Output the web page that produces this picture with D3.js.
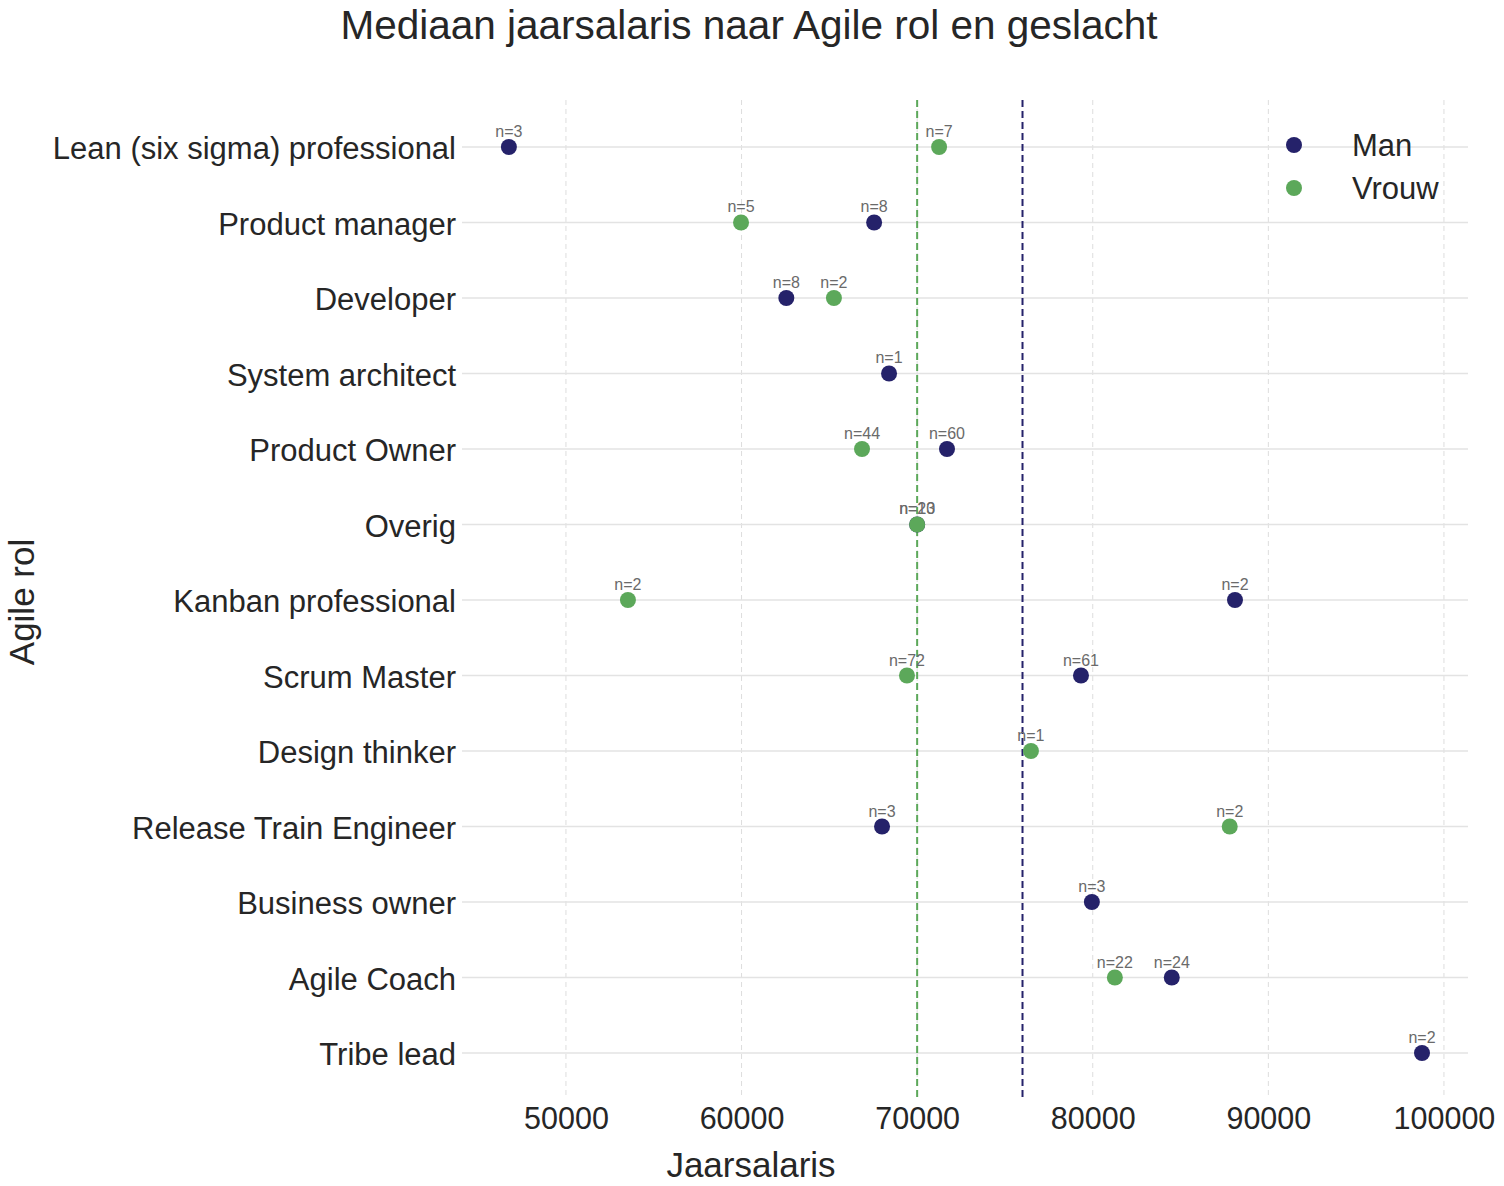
<!DOCTYPE html>
<html>
<head>
<meta charset="utf-8">
<script src="https://cdn.jsdelivr.net/npm/d3@7"></script>
<style>
  body { margin: 0; background: #fff; }
  svg { display: block; font-family: "Liberation Sans", Arial, sans-serif; }
</style>
</head>
<body>
<div id="app"></div>
<script>
const roles = ['Lean (six sigma) professional', 'Product manager', 'Developer', 'System architect',
  'Product Owner', 'Overig', 'Kanban professional', 'Scrum Master', 'Design thinker',
  'Release Train Engineer', 'Business owner', 'Agile Coach', 'Tribe lead'];

// [rol, salaris, n]
const manData = [
  ['Lean (six sigma) professional', 46750, 3],
  ['Product manager', 67550, 8],
  ['Developer', 62550, 8],
  ['System architect', 68400, 1],
  ['Product Owner', 71700, 60],
  ['Overig', 70000, 20],
  ['Kanban professional', 88100, 2],
  ['Scrum Master', 79330, 61],
  ['Release Train Engineer', 68000, 3],
  ['Business owner', 79950, 3],
  ['Agile Coach', 84500, 24],
  ['Tribe lead', 98750, 2]
];

const vrouwData = [
  ['Lean (six sigma) professional', 71250, 7],
  ['Product manager', 59970, 5],
  ['Developer', 65260, 2],
  ['Product Owner', 66860, 44],
  ['Overig', 70000, 13],
  ['Kanban professional', 53530, 2],
  ['Scrum Master', 69420, 72],
  ['Design thinker', 76480, 1],
  ['Release Train Engineer', 87800, 2],
  ['Agile Coach', 81260, 22]
];

const medianMan = 76000;
const medianVrouw = 70000;
const xTicks = [50000, 60000, 70000, 80000, 90000, 100000];

const w = 1504;
const h = 1186;
const plotLeft = 462, plotRight = 1468, plotTop = 100, plotBottom = 1098;
const manColor = '#25226a';
const vrouwColor = '#5ca85a';
const textColor = '#262626';

const xScale = d3.scaleLinear()
  .domain([44080, 101370])
  .range([plotLeft, plotRight]);

const yScale = d3.scalePoint()
  .domain(roles)
  .range([plotTop, 1100])
  .padding(0.6225);

const svg = d3.select('#app')
  .append('svg')
  .attr('width', w)
  .attr('height', h);

// grid
svg.append('g')
  .selectAll('line')
  .data(xTicks)
  .join('line')
  .attr('x1', (d) => xScale(d))
  .attr('x2', (d) => xScale(d))
  .attr('y1', plotTop)
  .attr('y2', plotBottom)
  .attr('stroke', '#dddddd')
  .attr('stroke-width', 1)
  .attr('stroke-dasharray', '5,4');

svg.append('g')
  .selectAll('line')
  .data(roles)
  .join('line')
  .attr('x1', plotLeft)
  .attr('x2', plotRight)
  .attr('y1', (d) => yScale(d))
  .attr('y2', (d) => yScale(d))
  .attr('stroke', '#e3e3e3')
  .attr('stroke-width', 1.3);

// axes
const xAxis = d3.axisBottom(xScale).tickValues(xTicks).tickSize(0).tickPadding(9).tickFormat(d3.format('d'));
const yAxis = d3.axisLeft(yScale).tickSize(0).tickPadding(6);

svg.append('g')
  .attr('transform', 'translate(0,' + plotBottom + ')')
  .call(xAxis)
  .call((g) => g.select('.domain').remove())
  .selectAll('text')
  .attr('font-size', 30.5)
  .attr('font-family', '"Liberation Sans", Arial, sans-serif')
  .attr('fill', textColor);

svg.append('g')
  .attr('transform', 'translate(' + plotLeft + ',0)')
  .call(yAxis)
  .call((g) => g.select('.domain').remove())
  .selectAll('text')
  .attr('dy', '0.38em')
  .attr('font-size', 31)
  .attr('font-family', '"Liberation Sans", Arial, sans-serif')
  .attr('fill', textColor);

// median lines
svg.append('line')
  .attr('x1', xScale(medianVrouw)).attr('x2', xScale(medianVrouw))
  .attr('y1', plotTop).attr('y2', plotBottom)
  .attr('stroke', vrouwColor).attr('stroke-width', 2).attr('stroke-dasharray', '7,4');

svg.append('line')
  .attr('x1', xScale(medianMan)).attr('x2', xScale(medianMan))
  .attr('y1', plotTop).attr('y2', plotBottom)
  .attr('stroke', manColor).attr('stroke-width', 2).attr('stroke-dasharray', '7,4');

// points + n labels
function drawSeries(data, color) {
  const g = svg.append('g');
  g.selectAll('circle')
    .data(data)
    .join('circle')
    .attr('cx', (d) => xScale(d[1]))
    .attr('cy', (d) => yScale(d[0]))
    .attr('r', 8)
    .attr('fill', color);
  g.selectAll('text')
    .data(data)
    .join('text')
    .attr('x', (d) => xScale(d[1]))
    .attr('y', (d) => yScale(d[0]) - 10)
    .attr('text-anchor', 'middle')
    .attr('font-size', 16)
    .attr('fill', '#6a6a6a')
    .text((d) => 'n=' + d[2]);
}
drawSeries(manData, manColor);
drawSeries(vrouwData, vrouwColor);

// title and labels
svg.append('text')
  .attr('x', 749)
  .attr('y', 39)
  .attr('text-anchor', 'middle')
  .attr('font-size', 40.5)
  .attr('fill', textColor)
  .text('Mediaan jaarsalaris naar Agile rol en geslacht');

svg.append('text')
  .attr('x', 751)
  .attr('y', 1177)
  .attr('text-anchor', 'middle')
  .attr('font-size', 35)
  .attr('fill', textColor)
  .text('Jaarsalaris');

svg.append('text')
  .attr('transform', 'rotate(-90)')
  .attr('x', -602)
  .attr('y', 34)
  .attr('text-anchor', 'middle')
  .attr('font-size', 35)
  .attr('fill', textColor)
  .text('Agile rol');

// legend
const legend = svg.append('g').attr('transform', 'translate(1294,145)');
const legendItems = [['Man', manColor], ['Vrouw', vrouwColor]];
legend.selectAll('circle')
  .data(legendItems)
  .join('circle')
  .attr('cx', 0)
  .attr('cy', (d, i) => i * 43)
  .attr('r', 8)
  .attr('fill', (d) => d[1]);
legend.selectAll('text')
  .data(legendItems)
  .join('text')
  .attr('x', 58)
  .attr('y', (d, i) => i * 43)
  .attr('dy', '0.35em')
  .attr('font-size', 31)
  .attr('fill', textColor)
  .text((d) => d[0]);
</script>
</body>
</html>
